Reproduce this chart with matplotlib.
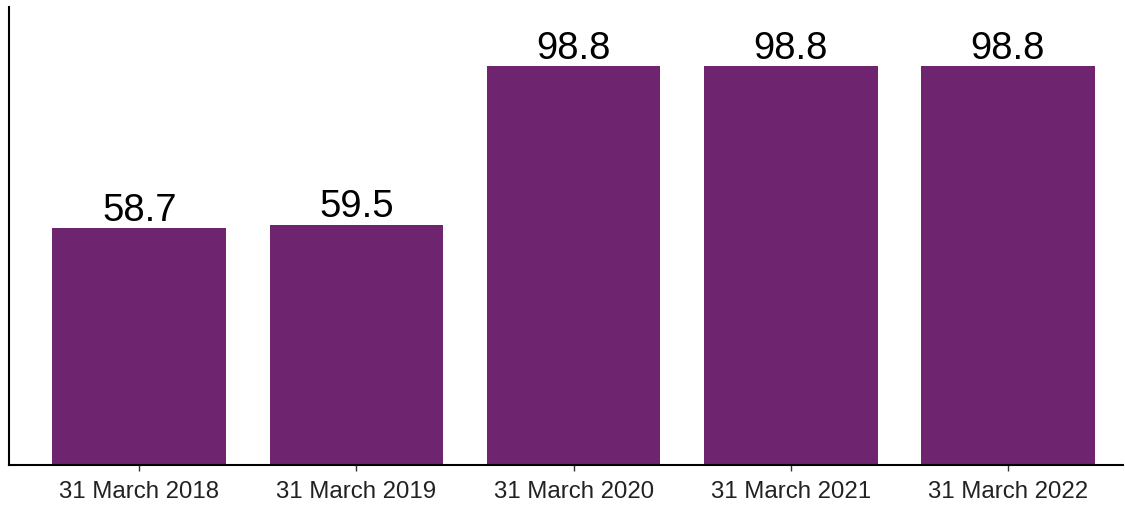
import matplotlib.pyplot as plt

dates = ['31 March 2018', '31 March 2019', '31 March 2020', '31 March 2021', '31 March 2022']
values = [58.7, 59.5, 98.8, 98.8, 98.8]

plt.rcParams['font.family'] = ['Liberation Sans', 'DejaVu Sans']

fig = plt.figure(figsize=(11.25, 5.06), dpi=100)
ax = fig.add_axes([9 / 1125, 1 - 466 / 506, (1123 - 9) / 1125, (466 - 8) / 506])

x = range(len(dates))
bars = ax.bar(x, values, width=0.8, color='#6f2470')
for xi, v in zip(x, values):
    ax.text(xi, v + 0.1, f'{v:.1f}', ha='center', va='bottom', fontsize=27.5, color='black')

ax.set_xlim(-0.6, 4.53)
ax.set_ylim(0, 113.4)
ax.set_xticks(list(x))
ax.set_xticklabels(dates, fontsize=17.3, color='#222222')
ax.set_yticks([])
ax.tick_params(axis='x', length=4, width=1, color='#333333', pad=7)
ax.spines['top'].set_visible(False)
ax.spines['right'].set_visible(False)
for s in ['left', 'bottom']:
    ax.spines[s].set_linewidth(1.5)
    ax.spines[s].set_color('black')

fig.savefig('out.png', dpi=100)
